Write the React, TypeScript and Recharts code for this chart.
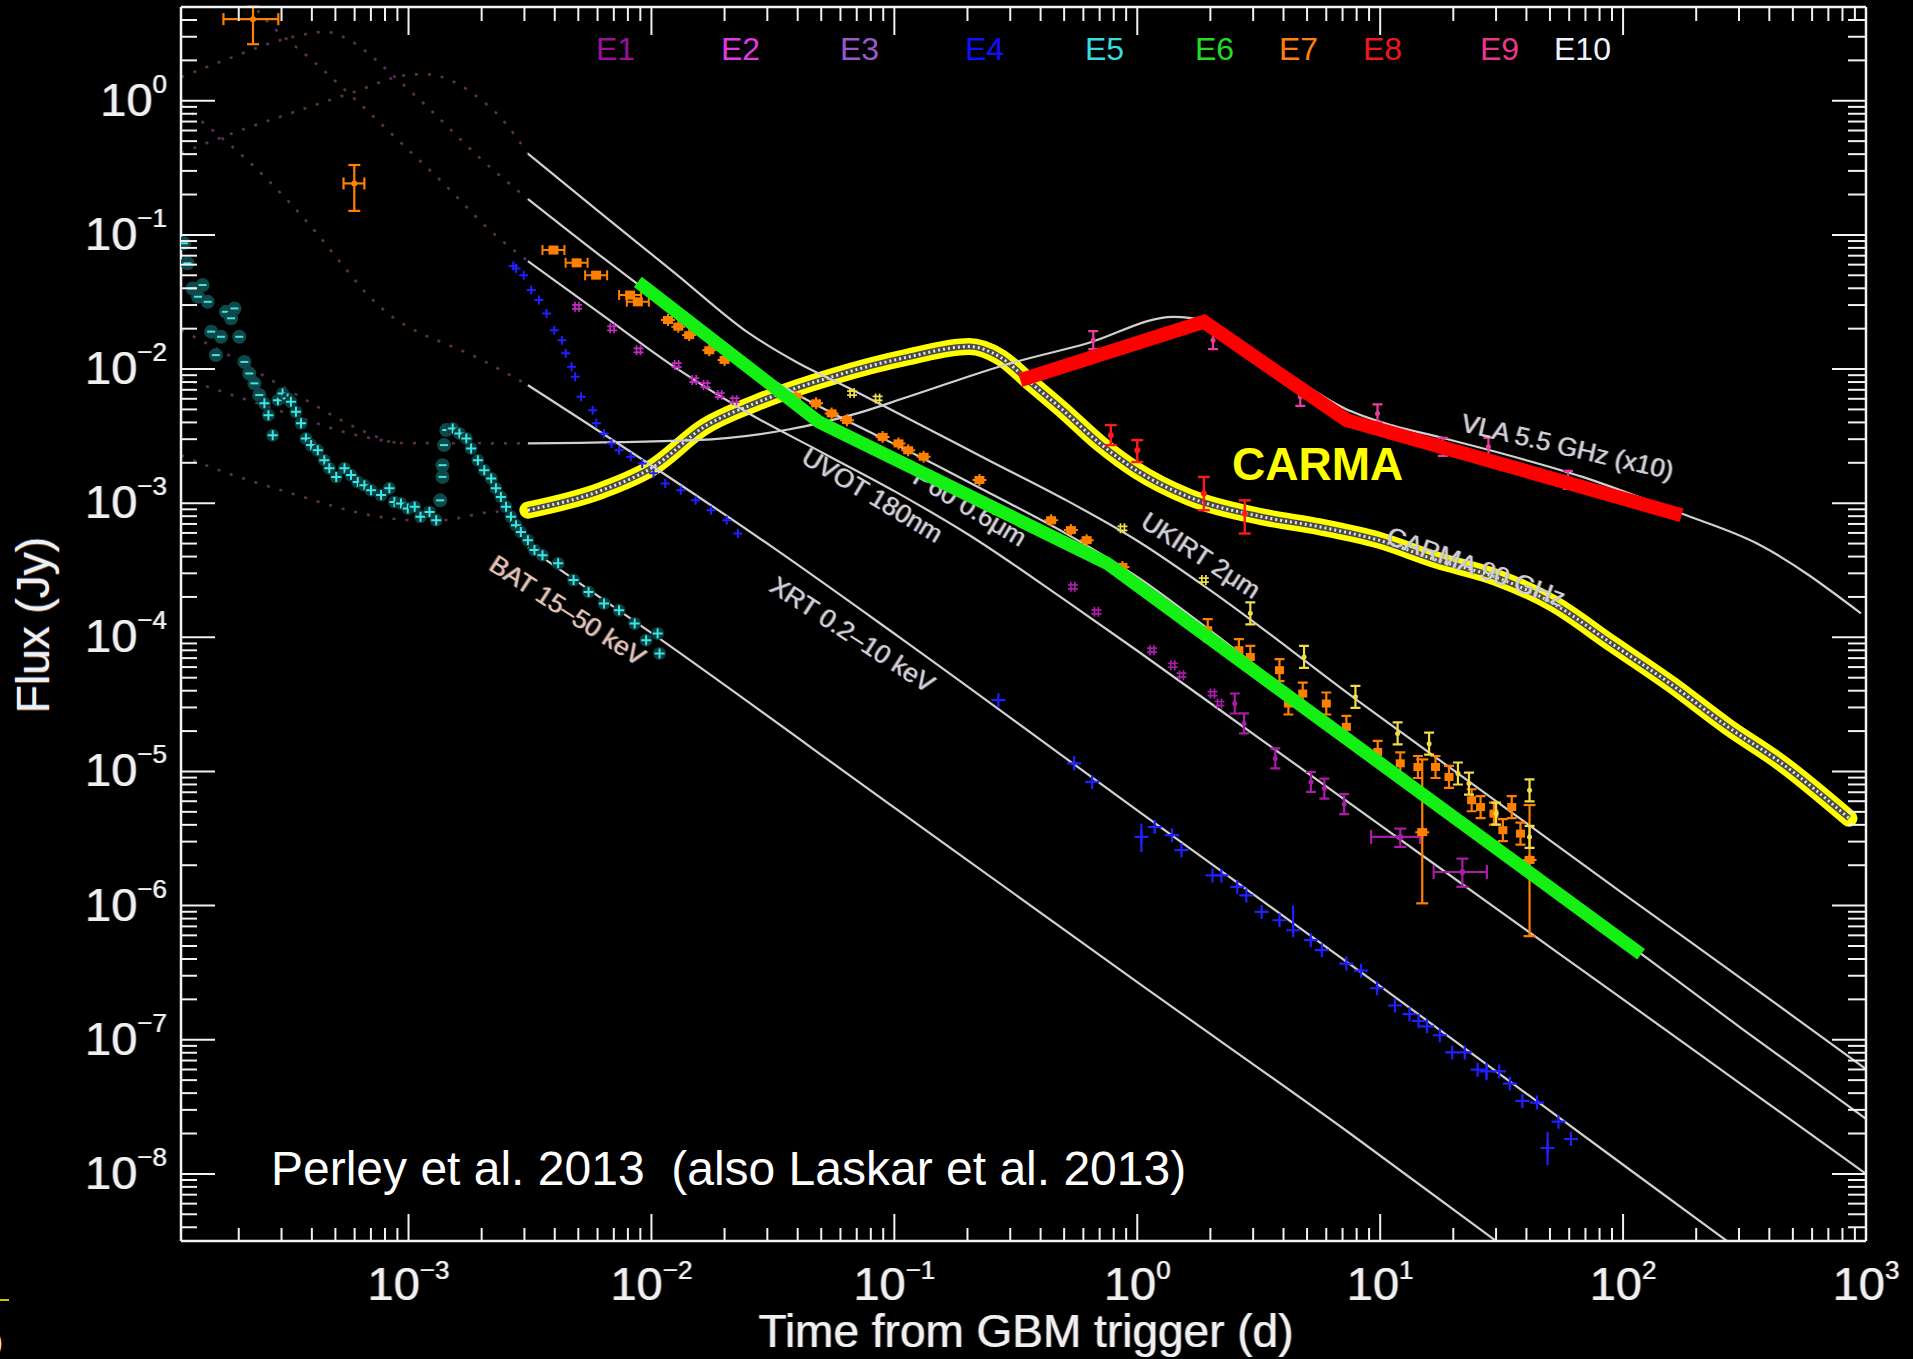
import React from 'react';
import { ComposedChart, Line, Scatter, XAxis, YAxis, ErrorBar } from 'recharts';

type Pt = [number, number];
type ErrPt = [number, number, number, number];
type Err2Pt = [number, number, number, number, number, number];

// ---------- model light curves: [time (d), flux (Jy)] ----------
const ukirtModel: Pt[] = [
  [3.1e-3, 0.404], [6.31e-3, 0.141], [1.26e-2, 5.13e-2], [2.51e-2, 1.86e-2], [3.98e-2, 1.12e-2],
  [6.31e-2, 7.41e-3], [0.126, 3.89e-3], [0.251, 2.04e-3], [0.501, 1.07e-3], [1.0, 5.25e-4],
  [2.0, 2.24e-4], [8.05, 3.39e-5], [31.6, 5.62e-6], [100, 1.23e-6], [316, 2.75e-7], [1000, 6.03e-8],
];
const opticalModel: Pt[] = [
  [3.1e-3, 0.185], [6.31e-3, 6.76e-2], [1.26e-2, 2.63e-2], [2.51e-2, 1.07e-2], [3.98e-2, 6.46e-3],
  [6.31e-2, 4.17e-3], [0.126, 2.24e-3], [0.251, 1.17e-3], [0.501, 6.03e-4], [1.0, 2.82e-4],
  [2.0, 1.12e-4], [8.05, 1.55e-5], [31.6, 2.51e-6], [100, 5.5e-7], [316, 1.17e-7], [1000, 2.57e-8],
];
const uvotModel: Pt[] = [
  [3.1e-3, 6.38e-2], [6.31e-3, 2.51e-2], [1.26e-2, 1.02e-2], [2.51e-2, 4.68e-3], [5.01e-2, 2.4e-3],
  [0.1, 1.23e-3], [0.2, 5.89e-4], [0.501, 1.91e-4], [1.0, 7.94e-5], [3.16, 1.78e-5], [10, 3.98e-6],
  [31.6, 8.91e-7], [100, 2.0e-7], [316, 4.47e-8], [1000, 1.0e-8],
];
const xrtModel: Pt[] = [
  [3.1e-3, 7.59e-3], [1.0e-2, 1.91e-3], [3.16e-2, 4.68e-4], [0.105, 1.0e-4], [1.0, 5.13e-6],
  [10, 2.51e-7], [100, 1.17e-8], [282, 2.95e-9],
];
const batModel: Pt[] = [
  [3.1e-3, 4.68e-4], [1.08e-2, 9.77e-5], [0.1, 5.37e-6], [1.0, 2.69e-7], [7.52, 2.0e-8], [31.6, 2.95e-9],
];
const vlaModel: Pt[] = [
  [3.1e-3, 2.79e-3], [1.5e-2, 2.95e-3], [3.57e-2, 3.51e-3], [7.03e-2, 4.67e-3], [0.114, 6.21e-3],
  [0.299, 1.1e-2], [0.619, 1.55e-2], [1.41, 2.45e-2], [1.91, 2.29e-2], [2.82, 1.48e-2], [4.47, 8.51e-3],
  [7.08, 5.13e-3], [11.2, 3.8e-3], [17.8, 3.09e-3], [28.1, 2.49e-3], [68.1, 1.57e-3], [174, 8.38e-4],
  [356, 5.01e-4], [953, 1.51e-4],
];
const carmaModel: Pt[] = [
  [3.1e-3, 8.87e-4], [6.27e-3, 1.25e-3], [1.02e-2, 1.87e-3], [1.65e-2, 3.71e-3], [2.67e-2, 5.55e-3],
  [5.52e-2, 8.75e-3], [0.114, 1.23e-2], [0.203, 1.47e-2], [0.272, 1.23e-2], [0.363, 7.94e-3],
  [0.49, 5.01e-3], [0.708, 2.75e-3], [1.0, 1.74e-3], [1.63, 1.11e-3], [3.27, 7.91e-4], [5.66, 6.65e-4],
  [9.86, 5.3e-4], [17.1, 3.76e-4], [29.7, 2.82e-4], [51.5, 1.79e-4], [89.7, 8.99e-5], [156, 4.53e-5],
  [270, 2.15e-5], [447, 1.16e-5], [851, 4.48e-6],
];

// early-time extrapolations of the model components (dotted)
const earlyA: Pt[] = [
  [1.16e-4, 0.407], [1.95e-4, 0.585], [3.38e-4, 0.824], [5.79e-4, 1.14], [1.0e-3, 1.56], [1.16e-3, 1.58],
  [1.48e-3, 1.43], [1.88e-3, 1.1], [2.38e-3, 0.757], [3.1e-3, 0.404],
];
const earlyB: Pt[] = [
  [1.16e-4, 1.5], [1.84e-4, 2.08], [2.99e-4, 2.84], [4.57e-4, 3.26], [5.97e-4, 2.7], [8.32e-4, 1.64],
  [1.27e-3, 0.81], [1.95e-3, 0.38], [3.1e-3, 0.185],
];
const earlyC: Pt[] = [
  [2.2e-4, 5.6], [2.64e-4, 3.86], [4.08e-4, 1.95], [6.19e-4, 0.979], [9.51e-4, 0.468], [1.44e-3, 0.228],
  [2.12e-3, 0.112], [3.1e-3, 6.38e-2],
];
const earlyD: Pt[] = [
  [1.16e-4, 0.929], [2.64e-4, 0.256], [4.08e-4, 0.109], [5.27e-4, 6.17e-2], [6.81e-4, 3.56e-2],
  [8.71e-4, 2.4e-2], [1.12e-3, 1.85e-2], [1.46e-3, 1.51e-2], [1.86e-3, 1.25e-2], [2.4e-3, 9.82e-3],
  [3.1e-3, 7.59e-3],
];
const earlyE: Pt[] = [
  [1.16e-4, 1.95e-2], [1.9e-4, 1.21e-2], [2.72e-4, 8.26e-3], [3.97e-4, 5.57e-3], [5.27e-4, 4.16e-3],
  [6.81e-4, 3.33e-3], [9.06e-4, 2.81e-3], [3.1e-3, 2.79e-3],
];
const earlyF: Pt[] = [
  [1.16e-4, 8.55e-3], [2.18e-4, 5.86e-3], [3.51e-4, 4.39e-3], [5.64e-4, 3.33e-3], [9.06e-4, 2.81e-3],
];
const earlyG: Pt[] = [
  [1.16e-4, 2.28e-3], [1.58e-4, 1.82e-3], [2.18e-4, 1.49e-3], [2.99e-4, 1.25e-3], [4.08e-4, 1.05e-3],
  [5.64e-4, 8.87e-4], [7.71e-4, 7.87e-4], [1.05e-3, 7.47e-4], [1.36e-3, 7.47e-4], [1.69e-3, 7.87e-4],
  [1.99e-3, 8.43e-4], [3.1e-3, 8.87e-4],
];

// ---------- measurements ----------
const batBinned: Pt[] = [
  [1.19e-4, 8.65e-2], [1.23e-4, 6.14e-2], [1.29e-4, 3.99e-2], [1.42e-4, 4.23e-2], [1.36e-4, 3.46e-2],
  [1.49e-4, 3.17e-2], [1.77e-4, 2.67e-2], [1.92e-4, 2.83e-2], [1.86e-4, 2.39e-2], [1.54e-4, 1.9e-2],
  [1.69e-4, 1.74e-2], [2.01e-4, 1.74e-2], [1.61e-4, 1.27e-2], [2.11e-4, 1.13e-2], [2.21e-4, 9.27e-3],
  [2.32e-4, 7.82e-3], [2.43e-4, 6.4e-3],
  [1.35e-3, 1.05e-3], [1.38e-3, 1.57e-3], [1.38e-3, 1.92e-3], [1.4e-3, 2.71e-3], [1.43e-3, 3.51e-3],
];
const batFlux: Pt[] = [
  [2.55e-4, 5.55e-3], [2.65e-4, 4.53e-3], [2.76e-4, 3.21e-3], [2.9e-4, 5.86e-3], [3.03e-4, 6.58e-3],
  [3.18e-4, 6.04e-3], [3.28e-4, 5.7e-3], [3.44e-4, 4.8e-3], [3.61e-4, 3.94e-3], [3.78e-4, 3.04e-3],
  [3.97e-4, 2.71e-3], [4.23e-4, 2.48e-3], [4.5e-4, 2.09e-3], [4.72e-4, 1.82e-3], [5.04e-4, 1.57e-3],
  [5.45e-4, 1.82e-3], [5.8e-4, 1.62e-3], [6.18e-4, 1.44e-3], [6.58e-4, 1.36e-3], [7.01e-4, 1.25e-3],
  [7.71e-4, 1.15e-3], [8.34e-4, 1.29e-3], [8.75e-4, 1.02e-3], [9.31e-4, 9.95e-4], [9.93e-4, 9.14e-4],
  [1.06e-3, 9.4e-4], [1.12e-3, 7.91e-4], [1.22e-3, 8.61e-4], [1.3e-3, 7.46e-4],
  [1.52e-3, 3.61e-3], [1.62e-3, 3.31e-3], [1.73e-3, 3.04e-3], [1.81e-3, 2.56e-3], [1.93e-3, 2.09e-3],
  [2.05e-3, 1.76e-3], [2.19e-3, 1.53e-3], [2.29e-3, 1.29e-3], [2.4e-3, 1.11e-3], [2.52e-3, 9.4e-4],
  [2.64e-3, 7.91e-4], [2.77e-3, 6.85e-4], [2.9e-3, 6.11e-4], [3.1e-3, 5.3e-4], [3.3e-3, 4.47e-4],
  [3.56e-3, 4.09e-4], [4.13e-3, 3.56e-4], [4.78e-3, 2.67e-4], [5.51e-3, 2.18e-4], [6.38e-3, 1.79e-4],
  [7.36e-3, 1.59e-4], [8.53e-3, 1.27e-4], [9.51e-3, 9.53e-5], [1.06e-2, 1.07e-4], [1.08e-2, 7.59e-5],
];
const xrtEarly: Pt[] = [
  [2.7e-3, 5.86e-2], [2.77e-3, 5.62e-2], [2.98e-3, 5.01e-2], [3.2e-3, 3.88e-2], [3.44e-3, 3.27e-2],
  [3.7e-3, 2.6e-2], [3.98e-3, 1.95e-2], [4.28e-3, 1.64e-2], [4.44e-3, 1.31e-2], [4.69e-3, 1.04e-2],
  [4.85e-3, 8.75e-3], [5.13e-3, 6.21e-3], [5.73e-3, 4.94e-3], [5.93e-3, 3.94e-3], [6.38e-3, 3.31e-3],
  [6.85e-3, 2.79e-3], [7.36e-3, 2.48e-3], [8.22e-3, 2.22e-3], [9.16e-3, 1.98e-3], [1.02e-2, 1.67e-3],
  [1.14e-2, 1.4e-3], [1.32e-2, 1.25e-3], [1.52e-2, 1.05e-3], [1.76e-2, 8.87e-4], [2.04e-2, 7.46e-4],
  [2.27e-2, 5.94e-4],
];
const xrtLate: Pt[] = [
  [0.268, 3.4e-5], [0.55, 1.15e-5], [0.652, 8.36e-6], [1.18, 3.85e-6], [1.39, 3.35e-6], [1.52, 2.59e-6],
  [2.04, 1.68e-6], [2.22, 1.68e-6], [2.58, 1.38e-6], [2.81, 1.19e-6], [3.25, 8.97e-7], [3.85, 7.78e-7],
  [5.18, 5.52e-7], [5.75, 4.65e-7], [7.26, 3.7e-7], [8.34, 3.27e-7], [9.7, 2.42e-7], [11.5, 1.8e-7],
  [13.2, 1.55e-7], [14.4, 1.38e-7], [15.6, 1.26e-7], [17.6, 1.08e-7], [19.8, 8.05e-8], [22.3, 8.05e-8],
  [25.2, 5.98e-8], [30.9, 5.81e-8], [34.2, 4.71e-8], [38.5, 3.5e-8], [44.2, 3.4e-8], [54.2, 2.45e-8],
  [61.0, 1.82e-8],
];
// [t, f, fLow, fHigh]
const xrtLateBars: ErrPt[] = [
  [1.04, 3.25e-6, 2.51e-6, 4.08e-6], [4.38, 6.55e-7, 6.0e-7, 1.0e-6], [27.4, 5.81e-8, 5.01e-8, 6.73e-8],
  [48.9, 1.56e-8, 1.16e-8, 2.05e-8],
];
const opticalEarly: Pt[] = [
  [3.95e-3, 7.71e-2], [4.92e-3, 6.19e-2], [5.92e-3, 5.01e-2], [8.17e-3, 3.56e-2], [8.79e-3, 3.17e-2],
];
const opticalMid: Pt[] = [
  [1.17e-2, 2.32e-2], [1.29e-2, 2.07e-2], [1.43e-2, 1.79e-2], [1.73e-2, 1.38e-2], [2.0e-2, 1.17e-2],
  [3.94e-2, 6.21e-3], [4.76e-2, 5.55e-3], [5.52e-2, 4.67e-3], [6.38e-2, 4.16e-3], [8.95e-2, 3.12e-3],
  [0.104, 2.79e-3], [0.114, 2.48e-3], [0.132, 2.22e-3], [0.224, 1.49e-3], [0.442, 7.46e-4],
  [0.533, 6.3e-4], [0.619, 5.3e-4], [0.869, 3.35e-4],
];
const opticalLate: Pt[] = [
  [1.95, 1.13e-4], [2.62, 8.02e-5], [2.92, 7.14e-5], [3.85, 5.69e-5], [4.19, 3.21e-5], [4.8, 3.81e-5],
  [6.0, 3.21e-5], [7.26, 2.15e-5], [9.77, 1.4e-5], [12.1, 1.15e-5], [14.3, 1.08e-5], [16.9, 1.08e-5],
  [19.2, 9.1e-6], [23.8, 6.1e-6], [25.9, 5.43e-6], [29.4, 4.85e-6], [32.0, 3.65e-6], [34.8, 5.43e-6],
  [37.8, 3.44e-6],
];
const opticalLong: ErrPt[] = [
  [14.9, 3.53e-6, 1.04e-6, 1.23e-5], [41.2, 2.19e-6, 5.92e-7, 5.62e-6],
];
// [t, f, tLow, tHigh, fLow, fHigh]
const opticalPrompt: Err2Pt[] = [
  [2.29e-4, 4.06, 1.73e-4, 2.91e-4, 2.64, 5.02], [5.98e-4, 0.242, 5.4e-4, 6.58e-4, 0.151, 0.332],
];
const uvotEarly: Pt[] = [
  [4.94e-3, 2.91e-2], [6.89e-3, 2.01e-2], [8.85e-3, 1.38e-2], [1.27e-2, 1.07e-2], [1.5e-2, 8.28e-3],
  [1.67e-2, 7.59e-3], [1.91e-2, 6.4e-3], [2.2e-2, 5.86e-3],
];
const uvotMid: Pt[] = [
  [0.543, 2.38e-4], [0.679, 1.55e-4], [1.15, 8.02e-5], [1.4, 6.19e-5], [1.52, 5.22e-5], [2.04, 3.81e-5],
  [2.18, 3.21e-5],
];
const uvotLate: Pt[] = [
  [2.52, 3.21e-5], [2.75, 2.28e-5], [3.7, 1.25e-5], [5.19, 8.36e-6], [5.89, 7.46e-6], [7.11, 5.7e-6],
];
const uvotWide: Err2Pt[] = [
  [12.1, 3.25e-6, 9.18, 14.6, 2.74e-6, 3.75e-6], [21.8, 1.78e-6, 16.6, 27.5, 1.38e-6, 2.24e-6],
];
const ukirtPts: Pt[] = [
  [6.7e-2, 6.62e-3], [8.53e-2, 6.04e-3], [0.869, 6.49e-4], [1.88, 2.67e-4],
];
const ukirtLate: Pt[] = [
  [2.92, 1.51e-4], [4.86, 7.14e-5], [7.91, 3.6e-5], [11.8, 1.92e-5], [15.9, 1.61e-5], [20.9, 9.66e-6],
  [23.2, 8.13e-6], [30.0, 4.85e-6], [41.2, 7.24e-6], [41.2, 3.25e-6],
];
const carmaPts: ErrPt[] = [
  [0.778, 3.21e-3, 2.71e-3, 3.82e-3], [1.0, 2.48e-3, 2.03e-3, 2.95e-3], [1.88, 1.18e-3, 8.87e-4, 1.57e-3],
  [2.77, 8.38e-4, 5.94e-4, 1.05e-3],
];
const vlaPts: Pt[] = [
  [0.659, 1.64e-2], [2.05, 1.64e-2], [4.69, 6.21e-3], [9.75, 4.67e-3], [18.1, 2.63e-3], [27.9, 2.63e-3],
  [59.3, 1.49e-3],
];

// hand-drawn trend segments
const opticalTrend: Pt[] = [[8.79e-3, 4.47e-2], [4.89e-2, 4.04e-3], [0.751, 3.56e-4], [118.6, 4.34e-7]];
const radioTrend: Pt[] = [[0.33, 8.27e-3], [1.88, 2.25e-2], [7.27, 4.16e-3], [174, 8.14e-4]];

// curve annotations: text, anchor [t, f], rotation
const CURVE_NOTES: { text: string; at: Pt; angle: number; warm?: boolean }[] = [
  { text: 'BAT 15\u201350 keV', at: [4.52e-3, 1.59e-4], angle: 33, warm: true },
  { text: 'XRT 0.2\u201310 keV', at: [6.73e-2, 1.05e-4], angle: 33 },
  { text: 'UVOT 180nm', at: [8.13e-2, 1.15e-3], angle: 31 },
  { text: 'P60 0.6\u03bcm', at: [0.205, 9.34e-4], angle: 31 },
  { text: 'UKIRT 2\u03bcm', at: [1.83, 4.09e-4], angle: 33 },
  { text: 'CARMA 90 GHz', at: [24.8, 3.36e-4], angle: 20 },
  { text: 'VLA 5.5 GHz (x10)', at: [59.1, 2.64e-3], angle: 13 },
];

const LEGEND_LABELS = ['E1', 'E2', 'E3', 'E4', 'E5', 'E6', 'E7', 'E8', 'E9', 'E10'];
const LEGEND_COLORS = ['#9a109a', '#e23ae2', '#9a58cc', '#1010ff', '#35dede', '#22dd22', '#ff7f10', '#f01818', '#e8388c', '#eef2ff'];
const LEGEND_X = [596, 721, 840, 965, 1085, 1195, 1279, 1363, 1480, 1554];

// ---------- axes ----------
const TIME_RANGE: [number, number] = [1.157e-4, 1000];
const FLUX_RANGE: [number, number] = [3.16e-9, 5];
const TIME_DECADES = [1e-4, 1e-3, 1e-2, 1e-1, 1, 10, 100, 1000];
const FLUX_DECADES = [1e-9, 1e-8, 1e-7, 1e-6, 1e-5, 1e-4, 1e-3, 1e-2, 1e-1, 1];
const STEPS = [1, 2, 3, 4, 5, 6, 7, 8, 9];

const logTicks = (decades: number[], [lo, hi]: [number, number]) =>
  decades.flatMap((d) => STEPS.map((s) => s * d)).filter((v) => v >= lo * 0.9999 && v <= hi * 1.0001);
const timeTicks = logTicks(TIME_DECADES, TIME_RANGE);
const fluxTicks = logTicks(FLUX_DECADES, FLUX_RANGE);

const WIDTH = 1913;
const HEIGHT = 1359;
// each axis takes 1px, so the plot frame is x 181..1866, y 7..1241
const MARGIN = { top: 6, right: 46, bottom: 117, left: 180 };
const FONT = "'Liberation Sans', Arial, Helvetica, sans-serif";
const AXIS_COLOR = '#f2f2f2';
const MODEL_COLOR = '#d0d0d0';
const DOTTED_COLOR = '#5c2f58';

const rows = (a: Pt[]) => a.map(([t, f]) => ({ t, f }));
const rowsErrY = (a: ErrPt[]) => a.map(([t, f, lo, hi]) => ({ t, f, ey: [f - lo, hi - f] }));
const rowsErrXY = (a: Err2Pt[]) =>
  a.map(([t, f, tl, th, fl, fh]) => ({ t, f, ex: [t - tl, th - t], ey: [f - fl, fh - f] }));

const isDecade = (v: number) => Math.abs(Math.log10(v) - Math.round(Math.log10(v))) < 1e-9;

// ---------- text helpers (light text with a faint orange/blue colour fringe) ----------
const FRINGE = [
  { dx: -1, fill: '#ff9a45', op: 0.5 },
  { dx: 1, fill: '#5aa2ff', op: 0.5 },
];

function Power({ x, y, exp, anchor, supDy }: { x: number; y: number; exp: number; anchor: 'middle' | 'end'; supDy: number }) {
  const sup = exp < 0 ? `\u2212${-exp}` : `${exp}`;
  const layers = [...FRINGE, { dx: 0, fill: '#f0f0f0', op: 1 }];
  return (
    <g>
      {layers.map((l, i) => (
        <text key={i} x={x + l.dx} y={y} textAnchor={anchor} fill={l.fill} fillOpacity={l.op} fontFamily={FONT} fontSize={47}>
          10
          <tspan fontSize={26} dy={supDy}>{sup}</tspan>
        </text>
      ))}
    </g>
  );
}

function Fringe(props: { x: number; y: number; size: number; anchor?: 'start' | 'middle' | 'end'; transform?: string; fill?: string; children: React.ReactNode }) {
  const { x, y, size, anchor = 'start', transform, fill = '#f0f0f0', children } = props;
  const common = { y, textAnchor: anchor, fontFamily: FONT, fontSize: size, style: { whiteSpace: 'pre' as const } };
  return (
    <g transform={transform}>
      {FRINGE.map((l, i) => (
        <text key={i} {...common} x={x + l.dx} fill={l.fill} fillOpacity={l.op}>{children}</text>
      ))}
      <text {...common} x={x} fill={fill}>{children}</text>
    </g>
  );
}

// ---------- axis ticks (drawn inward, IDL style) ----------
function BottomTick(p: any) {
  const { x, y, payload } = p;
  const major = isDecade(payload.value);
  return (
    <g>
      <line x1={x} x2={x} y1={y} y2={y - (major ? 27 : 13)} stroke={AXIS_COLOR} strokeWidth={2} />
      {major ? <Power x={x} y={y + 59} exp={Math.round(Math.log10(payload.value))} anchor="middle" supDy={-21} /> : null}
    </g>
  );
}
function TopTick(p: any) {
  const { x, y, payload } = p;
  const major = isDecade(payload.value);
  return <line x1={x} x2={x} y1={y} y2={y + (major ? 28 : 14)} stroke={AXIS_COLOR} strokeWidth={2} />;
}
function LeftTick(p: any) {
  const { x, y, payload } = p;
  const major = isDecade(payload.value);
  return (
    <g>
      <line x1={x} x2={x + (major ? 34 : 16)} y1={y} y2={y} stroke={AXIS_COLOR} strokeWidth={2} />
      {major ? <Power x={167} y={y + 15} exp={Math.round(Math.log10(payload.value))} anchor="end" supDy={-23} /> : null}
    </g>
  );
}
function RightTick(p: any) {
  const { x, y, payload } = p;
  const major = isDecade(payload.value);
  return <line x1={x} x2={x - (major ? 34 : 18)} y1={y} y2={y} stroke={AXIS_COLOR} strokeWidth={2} />;
}

// ---------- marker shapes ----------
const ok = (p: any) => Number.isFinite(p.cx) && Number.isFinite(p.cy);

const plusMark = (color: string, arm: number, width = 2, halo?: string) => (p: any) => {
  if (!ok(p)) return <g />;
  const { cx, cy } = p;
  return (
    <g>
      {halo ? <circle cx={cx} cy={cy} r={arm + 1.5} fill={halo} /> : null}
      <path d={`M${cx - arm},${cy}H${cx + arm}M${cx},${cy - arm}V${cy + arm}`} stroke={color} strokeWidth={width} fill="none" />
    </g>
  );
};
const binnedMark = (p: any) => {
  if (!ok(p)) return <g />;
  const { cx, cy } = p;
  return (
    <g>
      <circle cx={cx} cy={cy} r={7} fill="#0f4848" />
      <path d={`M${cx - 4},${cy}H${cx + 4}`} stroke="#45e4e4" strokeWidth={2} />
    </g>
  );
};
const hashMark = (color: string, s = 5) => (p: any) => {
  if (!ok(p)) return <g />;
  const { cx, cy } = p;
  return (
    <path
      d={`M${cx - s},${cy - 2}H${cx + s}M${cx - s},${cy + 2}H${cx + s}M${cx - 2},${cy - s}V${cy + s}M${cx + 2},${cy - s}V${cy + s}`}
      stroke={color}
      strokeWidth={1.7}
      fill="none"
    />
  );
};
const beamMark = (color: string, h = 10, box = false) => (p: any) => {
  if (!ok(p)) return <g />;
  const { cx, cy } = p;
  return (
    <g>
      <path d={`M${cx},${cy - h}V${cy + h}M${cx - 5},${cy - h}H${cx + 5}M${cx - 5},${cy + h}H${cx + 5}`} stroke={color} strokeWidth={2.2} fill="none" />
      {box ? <rect x={cx - 4.5} y={cy - 4} width={9} height={8} fill={color} /> : <circle cx={cx} cy={cy} r={2.5} fill={color} />}
    </g>
  );
};
const barBoxMark = (color: string) => (p: any) => {
  if (!ok(p)) return <g />;
  const { cx, cy } = p;
  return (
    <g>
      <path d={`M${cx - 11},${cy}H${cx + 11}M${cx - 11},${cy - 5}V${cy + 5}M${cx + 11},${cy - 5}V${cy + 5}`} stroke={color} strokeWidth={2} fill="none" />
      <rect x={cx - 5} y={cy - 4.5} width={10} height={9} fill={color} />
    </g>
  );
};
const boxMark = (color: string) => (p: any) => {
  if (!ok(p)) return <g />;
  const { cx, cy } = p;
  return (
    <g>
      <path d={`M${cx},${cy - 6}V${cy + 6}M${cx - 7},${cy}H${cx + 7}`} stroke={color} strokeWidth={2} />
      <rect x={cx - 5} y={cy - 4} width={10} height={8} fill={color} />
    </g>
  );
};
const dotMark = (color: string) => (p: any) => (ok(p) ? <circle cx={p.cx} cy={p.cy} r={3} fill={color} /> : <g />);

const noteMark = (text: string, angle: number, warm?: boolean) => (p: any) => {
  if (!ok(p)) return <g />;
  return (
    <Fringe x={0} y={9} size={26} anchor="middle" transform={`translate(${p.cx},${p.cy}) rotate(${angle})`} fill={warm ? '#e2c2b2' : '#cdd0d8'}>
      {text}
    </Fringe>
  );
};

function modelLine(key: string, data: Pt[]) {
  return (
    <Line key={key} data={rows(data)} dataKey="f" type="monotone" stroke={MODEL_COLOR} strokeWidth={2.2} dot={false} activeDot={false} isAnimationActive={false} />
  );
}
function dottedLine(key: string, data: Pt[]) {
  return (
    <Line key={key} data={rows(data)} dataKey="f" type="monotone" stroke={DOTTED_COLOR} strokeWidth={2.6} strokeDasharray="3 10" dot={false} activeDot={false} isAnimationActive={false} />
  );
}

export default function App() {
  return (
    <div style={{ position: 'absolute', left: 0, top: 0, width: WIDTH, height: HEIGHT, background: '#000', overflow: 'hidden' }}>
      <ComposedChart width={WIDTH} height={HEIGHT} margin={MARGIN}>
        <XAxis xAxisId={0} dataKey="t" type="number" scale="log" domain={TIME_RANGE} allowDataOverflow ticks={timeTicks} interval={0}
          tick={(p: any) => <BottomTick {...p} />} tickLine={false} tickSize={0} tickMargin={0} height={1}
          axisLine={{ stroke: AXIS_COLOR, strokeWidth: 2.5 }} />
        <XAxis xAxisId="top" orientation="top" dataKey="t" type="number" scale="log" domain={TIME_RANGE} allowDataOverflow ticks={timeTicks} interval={0}
          tick={(p: any) => <TopTick {...p} />} tickLine={false} tickSize={0} tickMargin={0} height={1}
          axisLine={{ stroke: AXIS_COLOR, strokeWidth: 2.5 }} />
        <YAxis yAxisId={0} dataKey="f" type="number" scale="log" domain={FLUX_RANGE} allowDataOverflow ticks={fluxTicks} interval={0}
          tick={(p: any) => <LeftTick {...p} />} tickLine={false} tickSize={0} tickMargin={0} width={1}
          axisLine={{ stroke: AXIS_COLOR, strokeWidth: 2.5 }} />
        <YAxis yAxisId="right" orientation="right" dataKey="f" type="number" scale="log" domain={FLUX_RANGE} allowDataOverflow ticks={fluxTicks} interval={0}
          tick={(p: any) => <RightTick {...p} />} tickLine={false} tickSize={0} tickMargin={0} width={1}
          axisLine={{ stroke: AXIS_COLOR, strokeWidth: 2.5 }} />

        {dottedLine('eA', earlyA)}
        {dottedLine('eB', earlyB)}
        {dottedLine('eC', earlyC)}
        {dottedLine('eD', earlyD)}
        {dottedLine('eE', earlyE)}
        {dottedLine('eF', earlyF)}
        {dottedLine('eG', earlyG)}

        {/* CARMA 90 GHz measurements drawn as a dense band with the model through it */}
        <Line data={rows(carmaModel)} dataKey="f" type="monotone" stroke="#ffff00" strokeWidth={17} strokeLinecap="round" dot={false} activeDot={false} isAnimationActive={false} />
        <Line data={rows(carmaModel)} dataKey="f" type="monotone" stroke="#4a4a4a" strokeWidth={6} dot={false} activeDot={false} isAnimationActive={false} />
        <Line data={rows(carmaModel)} dataKey="f" type="monotone" stroke="#e6e6e6" strokeWidth={3} strokeDasharray="2 3" dot={false} activeDot={false} isAnimationActive={false} />

        {modelLine('mU', ukirtModel)}
        {modelLine('mO', opticalModel)}
        {modelLine('mV', uvotModel)}
        {modelLine('mX', xrtModel)}
        {modelLine('mB', batModel)}
        {modelLine('mR', vlaModel)}

        <Scatter data={rows(batBinned)} dataKey="f" shape={binnedMark} isAnimationActive={false} />
        <Scatter data={rows(batFlux)} dataKey="f" shape={plusMark('#38e8e8', 5, 2, '#0d3a3a')} isAnimationActive={false} />
        <Scatter data={rows(xrtEarly)} dataKey="f" shape={plusMark('#1f1fff', 4.5, 2)} isAnimationActive={false} />
        <Scatter data={rows(xrtLate)} dataKey="f" shape={plusMark('#1f1fff', 7, 2.2)} isAnimationActive={false} />
        <Scatter data={rowsErrY(xrtLateBars)} dataKey="f" shape={plusMark('#1f1fff', 7, 2.2)} isAnimationActive={false}>
          <ErrorBar dataKey="ey" direction="y" width={0} stroke="#1f1fff" strokeWidth={2.2} isAnimationActive={false} />
        </Scatter>

        <Scatter data={rows(uvotEarly)} dataKey="f" shape={hashMark('#c02ac0')} isAnimationActive={false} />
        <Scatter data={rows(uvotMid)} dataKey="f" shape={hashMark('#a81ca8')} isAnimationActive={false} />
        <Scatter data={rows(uvotLate)} dataKey="f" shape={beamMark('#a81ca8', 10)} isAnimationActive={false} />
        <Scatter data={rowsErrXY(uvotWide)} dataKey="f" shape={dotMark('#a81ca8')} isAnimationActive={false}>
          <ErrorBar dataKey="ex" direction="x" width={7} stroke="#a81ca8" strokeWidth={2.2} isAnimationActive={false} />
          <ErrorBar dataKey="ey" direction="y" width={6} stroke="#a81ca8" strokeWidth={2.2} isAnimationActive={false} />
        </Scatter>

        <Scatter data={rowsErrXY(opticalPrompt)} dataKey="f" shape={dotMark('#ff8000')} isAnimationActive={false}>
          <ErrorBar dataKey="ex" direction="x" width={6} stroke="#ff8000" strokeWidth={2.2} isAnimationActive={false} />
          <ErrorBar dataKey="ey" direction="y" width={6} stroke="#ff8000" strokeWidth={2.2} isAnimationActive={false} />
        </Scatter>
        <Scatter data={rows(opticalEarly)} dataKey="f" shape={barBoxMark('#ff8000')} isAnimationActive={false} />
        <Scatter data={rows(opticalMid)} dataKey="f" shape={boxMark('#ff8000')} isAnimationActive={false} />
        <Scatter data={rows(opticalLate)} dataKey="f" shape={beamMark('#ff8000', 11, true)} isAnimationActive={false} />
        <Scatter data={rowsErrY(opticalLong)} dataKey="f" shape={boxMark('#ff8000')} isAnimationActive={false}>
          <ErrorBar dataKey="ey" direction="y" width={6} stroke="#ff8000" strokeWidth={2.2} isAnimationActive={false} />
        </Scatter>

        <Scatter data={rows(ukirtPts)} dataKey="f" shape={hashMark('#f0dc48')} isAnimationActive={false} />
        <Scatter data={rows(ukirtLate)} dataKey="f" shape={beamMark('#f0dc48', 11)} isAnimationActive={false} />

        <Scatter data={rowsErrY(carmaPts)} dataKey="f" shape={dotMark('#ff1a1a')} isAnimationActive={false}>
          <ErrorBar dataKey="ey" direction="y" width={6} stroke="#ff1a1a" strokeWidth={2.4} isAnimationActive={false} />
        </Scatter>
        <Scatter data={rows(vlaPts)} dataKey="f" shape={beamMark('#e8409a', 9)} isAnimationActive={false} />

        {CURVE_NOTES.map((n) => (
          <Scatter key={n.text} data={rows([n.at])} dataKey="f" shape={noteMark(n.text, n.angle, n.warm)} isAnimationActive={false} />
        ))}

        <Line data={rows(opticalTrend)} dataKey="f" type="linear" stroke="#14f014" strokeWidth={13} strokeLinejoin="miter" strokeLinecap="butt" dot={false} activeDot={false} isAnimationActive={false} zIndex={900} />
        <Line data={rows(radioTrend)} dataKey="f" type="linear" stroke="#ff0000" strokeWidth={14} strokeLinejoin="miter" strokeLinecap="butt" dot={false} activeDot={false} isAnimationActive={false} zIndex={900} />
      </ComposedChart>

      <svg width={WIDTH} height={HEIGHT} style={{ position: 'absolute', left: 0, top: 0, pointerEvents: 'none' }}>
        {LEGEND_LABELS.map((lab, i) => (
          <text key={lab} x={LEGEND_X[i]} y={60} fill={LEGEND_COLORS[i]} fontFamily={FONT} fontSize={32}>
            {lab}
          </text>
        ))}
        <Fringe x={1026} y={1347} size={46} anchor="middle">Time from GBM trigger (d)</Fringe>
        <Fringe x={0} y={0} size={46} anchor="middle" transform="translate(49,625) rotate(-90)">Flux (Jy)</Fringe>
        <text x={1232} y={480} fill="#ffff00" fontFamily={FONT} fontSize={46} fontWeight="bold">CARMA</text>
        <text x={271} y={1185} fill="#ffffff" fontFamily={FONT} fontSize={48} style={{ whiteSpace: 'pre' }}>
          Perley et al. 2013  (also Laskar et al. 2013)
        </text>
        <line x1={0} x2={9} y1={1300} y2={1300} stroke="#c8c800" strokeWidth={2} />
        <text x={-7} y={1352} fill="#e8e8e8" fontFamily={FONT} fontSize={30}>)</text>
      </svg>
    </div>
  );
}
